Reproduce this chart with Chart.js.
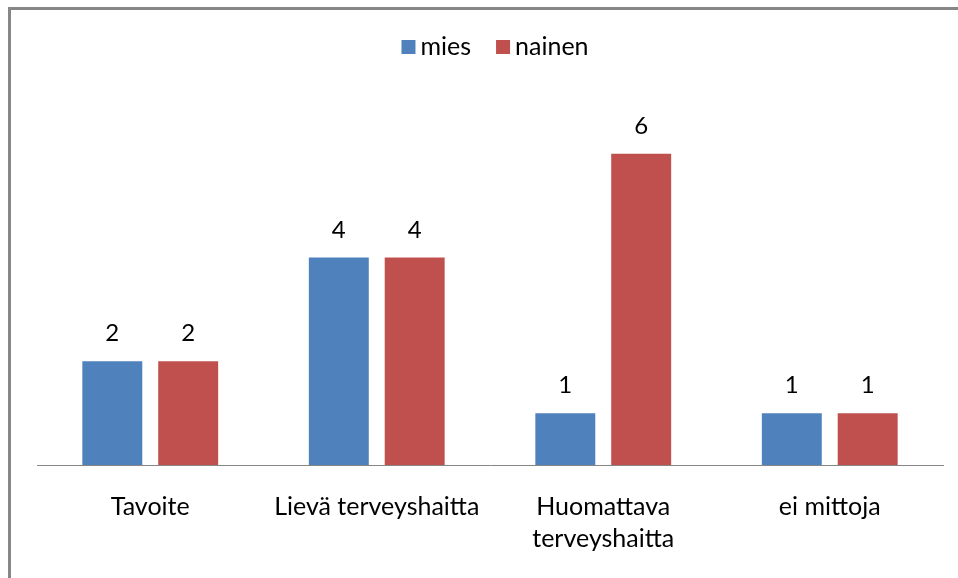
<!DOCTYPE html>
<html>
<head>
<meta charset="utf-8">
<script src="https://cdn.jsdelivr.net/npm/chart.js@4/dist/chart.umd.min.js"></script>
<style>
html,body{margin:0;padding:0;background:#fff;overflow:hidden;}
#wrap{position:absolute;left:0;top:0;width:958px;height:578px;}
#frame{position:absolute;left:8px;top:7px;width:960px;height:600px;border-left:3px solid #878787;border-top:3px solid #878787;}
canvas{position:absolute;left:0;top:0;}
</style>
</head>
<body>
<div id="wrap">
<div id="frame"></div>
<canvas id="c" width="958" height="578"></canvas>
</div>
<script>
const categories = ["Tavoite", "Lievä terveyshaitta", ["Huomattava", "terveyshaitta"], "ei mittoja"];
const seriesNames = ["mies", "nainen"];
const miesValues = [2, 4, 1, 1];
const nainenValues = [2, 4, 6, 1];

const FONT = "Lato, 'Open Sans', sans-serif";

const labelPlugin = {
  id: 'valueLabels',
  afterDatasetsDraw(chart) {
    const ctx = chart.ctx;
    ctx.save();
    ctx.font = "24px " + FONT;
    ctx.fillStyle = "#000";
    ctx.textAlign = "center";
    ctx.textBaseline = "alphabetic";
    chart.data.datasets.forEach((ds, i) => {
      const meta = chart.getDatasetMeta(i);
      meta.data.forEach((bar, j) => {
        ctx.fillText(String(ds.data[j]), bar.x, bar.y - 20);
      });
    });
    ctx.restore();
  }
};

const legendPlugin = {
  id: 'customLegend',
  afterDraw(chart) {
    const ctx = chart.ctx;
    ctx.save();
    ctx.font = "25px " + FONT;
    ctx.textBaseline = "middle";
    ctx.textAlign = "left";
    const box = 14, gapText = 5, gapItem = 25, cy = 47;
    const items = chart.data.datasets.map(ds => ({ text: ds.label, color: ds.backgroundColor, w: ctx.measureText(ds.label).width }));
    let total = 0;
    items.forEach((it, i) => { total += box + gapText + it.w + (i < items.length - 1 ? gapItem : 0); });
    let x = 495 - total / 2;
    items.forEach(it => {
      ctx.fillStyle = it.color;
      ctx.fillRect(x, cy - 7, box, box);
      ctx.fillStyle = "#000";
      ctx.fillText(it.text, x + box + gapText, cy);
      x += box + gapText + it.w + gapItem;
    });
    ctx.restore();
  }
};

new Chart(document.getElementById('c'), {
  type: 'bar',
  data: {
    labels: categories,
    datasets: [
      { label: seriesNames[0], data: miesValues, backgroundColor: '#4F81BD', categoryPercentage: 0.67, barPercentage: 0.79 },
      { label: seriesNames[1], data: nainenValues, backgroundColor: '#C0504D', categoryPercentage: 0.67, barPercentage: 0.79 }
    ]
  },
  options: {
    responsive: false,
    animation: false,
    layout: { padding: { left: 37, right: 15, top: 102, bottom: 5 } },
    plugins: {
      legend: { display: false },
      tooltip: { enabled: false }
    },
    scales: {
      x: {
        grid: { display: false },
        border: { display: true, color: '#868686', width: 1 },
        ticks: { color: '#000', padding: 18, maxRotation: 0, autoSkip: false, font: { family: FONT, size: 25, lineHeight: 1.28 } }
      },
      y: {
        display: false,
        min: 0,
        max: 7
      }
    }
  },
  plugins: [labelPlugin, legendPlugin]
});
</script>
</body>
</html>
